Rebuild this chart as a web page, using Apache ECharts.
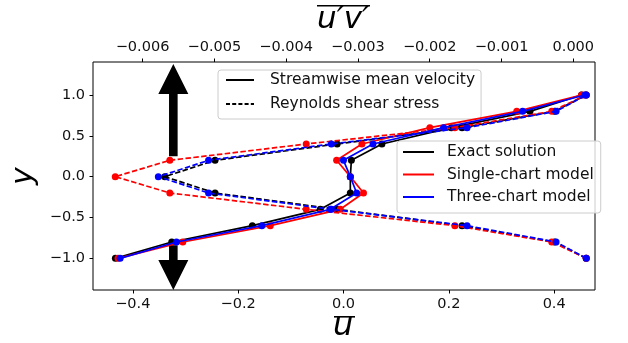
<!DOCTYPE html>
<html><head><meta charset="utf-8">
<script src="https://cdn.jsdelivr.net/npm/echarts@6/dist/echarts.min.js"></script>
<style>html,body{margin:0;padding:0;background:#fff}#c{width:628px;height:343px}</style>
</head><body><div id="c"></div>
<script>
// wall-normal positions
const yVals = [-1, -0.8, -0.6, -0.4, -0.2, 0, 0.2, 0.4, 0.6, 0.8, 1];
// streamwise mean velocity (bottom axis)
const exactU  = [-0.433, -0.326, -0.173, -0.044, 0.013, 0.013, 0.015, 0.073, 0.205, 0.354, 0.452];
const singleU = [-0.428, -0.305, -0.139, -0.006, 0.038, 0.013, -0.013, 0.035, 0.164, 0.329, 0.452];
const threeU  = [-0.424, -0.317, -0.155, -0.025, 0.025, 0.013, 0.000, 0.056, 0.190, 0.340, 0.458];
// Reynolds shear stress (top axis)
const exactUV  = [0.00018, -0.00026, -0.00155, -0.00329, -0.00499, -0.00569, -0.00499, -0.00329, -0.00155, -0.00026, 0.00018];
const singleUV = [0.00018, -0.00030, -0.00165, -0.00372, -0.00562, -0.00638, -0.00562, -0.00372, -0.00165, -0.00030, 0.00018];
const threeUV  = [0.00018, -0.00024, -0.00148, -0.00337, -0.00508, -0.00578, -0.00508, -0.00337, -0.00148, -0.00024, 0.00018];
// tick labels
const bottomTicks = [-0.4, -0.2, 0, 0.2, 0.4];
const topTicks = [-0.006, -0.005, -0.004, -0.003, -0.002, -0.001, 0];
const yTicks = [-1, -0.5, 0, 0.5, 1];
// arrows: [u, yTail, yTip]
const arrows = [[-0.323, 0.25, 1.38], [-0.323, -0.84, -1.388]];
const styleNames = ['Streamwise mean velocity', 'Reynolds shear stress'];
const modelNames = ['Exact solution', 'Single-chart model', 'Three-chart model'];

const FONT = 'DejaVu Sans';
function fmt(v, d) { const s = Math.abs(v).toFixed(d); return (v < -1e-12 ? '\u2212' : '') + s; }
function pairs(xs) { return xs.map((x, i) => [x, yVals[i]]); }

const colors = ['#000000', '#ff0000', '#0000ff'];
const uSets = [exactU, singleU, threeU];
const uvSets = [exactUV, singleUV, threeUV];
const series = [];

series.push({
  type: 'custom', xAxisIndex: 0, yAxisIndex: 0, z: 1, clip: true, silent: true,
  data: arrows,
  renderItem: function (params, api) {
    const x = api.value(0), y0 = api.value(1), y1 = api.value(2);
    const p0 = api.coord([x, y0]), p1 = api.coord([x, y1]);
    const dir = p1[1] > p0[1] ? 1 : -1;
    const headLen = 30, headHW = 15, shaftHW = 4.3;
    const yb = p1[1] - dir * headLen;
    const cx = p0[0];
    return {
      type: 'polygon',
      shape: { points: [[cx - shaftHW, p0[1]], [cx - shaftHW, yb], [cx - headHW, yb], [cx, p1[1]], [cx + headHW, yb], [cx + shaftHW, yb], [cx + shaftHW, p0[1]]] },
      style: { fill: '#000' }
    };
  }
});

for (let k = 0; k < 3; k++) {
  series.push({
    type: 'line', name: 'u_' + k, xAxisIndex: 0, yAxisIndex: 0, z: 3 + k,
    data: pairs(uSets[k]), symbol: 'circle', symbolSize: 7, showSymbol: true,
    lineStyle: { color: colors[k], width: 1.7 }, itemStyle: { color: colors[k] },
    animation: false, silent: true
  });
}
for (let k = 0; k < 3; k++) {
  series.push({
    type: 'line', name: 'uv_' + k, xAxisIndex: 1, yAxisIndex: 0, z: 3 + k,
    data: pairs(uvSets[k]), symbol: 'circle', symbolSize: 7, showSymbol: true,
    lineStyle: { color: colors[k], width: 1.7, type: [5.5, 2.4] }, itemStyle: { color: colors[k] },
    animation: false, silent: true
  });
}
// legend-only series
series.push({ type: 'line', name: styleNames[0], data: [], symbol: 'none', lineStyle: { color: '#000', width: 1.5 }, itemStyle: { color: '#000' } });
series.push({ type: 'line', name: styleNames[1], data: [], symbol: 'none', lineStyle: { color: '#000', width: 1.5, type: [4, 2.2] }, itemStyle: { color: '#000' } });
for (let k = 0; k < 3; k++) {
  series.push({ type: 'line', name: modelNames[k], data: [], symbol: 'none', lineStyle: { color: colors[k], width: 1.5 }, itemStyle: { color: colors[k] } });
}

const tickStyle = { show: true, inside: false, length: 3.5, lineStyle: { color: '#000', width: 1 } };
const lblStyle = { color: '#111', fontSize: 14.5, fontFamily: FONT };
const noLine = { show: false, onZero: false };
const legendCommon = {
  orient: 'vertical', backgroundColor: 'rgba(255,255,255,0.8)', borderColor: '#cccccc', borderWidth: 1, borderRadius: 3,
  inactiveColor: '#000', selectedMode: false,
  itemStyle: { opacity: 0 }
};

const option = {
  animation: false,
  backgroundColor: '#fff',
  grid: { left: 93, right: 33, top: 62, bottom: 53, show: true, borderColor: '#000', borderWidth: 1, backgroundColor: 'transparent' },
  xAxis: [
    { type: 'value', position: 'bottom', min: -0.4755, max: 0.4775,
      axisLine: noLine, splitLine: { show: false },
      axisTick: Object.assign({ customValues: bottomTicks }, tickStyle),
      axisLabel: Object.assign({ customValues: bottomTicks, margin: 7, formatter: v => fmt(v, 1) }, lblStyle) },
    { type: 'value', position: 'top', min: -0.00669, max: 0.000302,
      axisLine: noLine, splitLine: { show: false },
      axisTick: Object.assign({ customValues: topTicks }, tickStyle),
      axisLabel: Object.assign({ customValues: topTicks, margin: 7, formatter: v => fmt(v, 3) }, lblStyle) }
  ],
  yAxis: [
    { type: 'value', min: -1.388, max: 1.404,
      axisLine: noLine, splitLine: { show: false },
      axisTick: Object.assign({ customValues: yTicks }, tickStyle),
      axisLabel: Object.assign({ customValues: yTicks, margin: 8, formatter: v => fmt(v, 1) }, lblStyle),
      name: 'y', nameLocation: 'middle', nameRotate: 90, nameGap: 47,
      nameTextStyle: { fontSize: 30, fontStyle: 'italic', fontFamily: FONT, color: '#000' } }
  ],
  legend: [
    Object.assign({ data: styleNames, left: 218, top: 70, itemWidth: 28, itemHeight: 14, itemGap: 8,
      padding: [2, 6, 7, 7],
      textStyle: { fontSize: 15.5, fontFamily: FONT, color: '#111', padding: [0, 0, 0, 11] } }, legendCommon),
    Object.assign({ data: modelNames, left: 397, top: 141, itemWidth: 31, itemHeight: 14, itemGap: 6.5,
      padding: [3, 7, 8, 5],
      textStyle: { fontSize: 15.5, fontFamily: FONT, color: '#111', padding: [0, 0, 0, 8] } }, legendCommon)
  ],
  graphic: [
    { type: 'text', left: 317, top: 4, style: { text: 'u\u2032v\u2032', font: 'italic 31px "DejaVu Sans"', fill: '#000' } },
    { type: 'rect', shape: { x: 317, y: 5, width: 53, height: 1.6 }, style: { fill: '#000' } },
    { type: 'text', left: 333, top: 311, style: { text: 'u', font: 'italic 32px "DejaVu Sans"', fill: '#000' } },
    { type: 'rect', shape: { x: 334, y: 316, width: 21, height: 1.6 }, style: { fill: '#000' } }
  ],
  series: series
};
const chart = echarts.init(document.getElementById('c'), null, { renderer: 'canvas' });
chart.setOption(option);
</script></body></html>
